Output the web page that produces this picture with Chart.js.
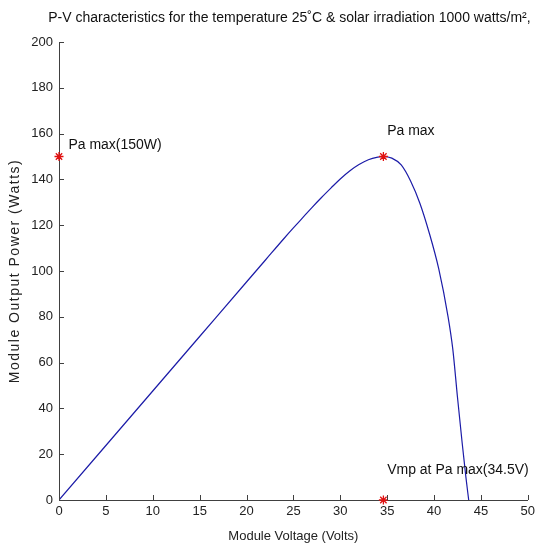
<!DOCTYPE html>
<html>
<head>
<meta charset="utf-8">
<script src="https://cdn.jsdelivr.net/npm/chart.js@4.4.1/dist/chart.umd.min.js"></script>
<style>
  html, body { margin: 0; padding: 0; background: #fff; }
  #wrap { width: 539px; height: 549px; position: relative; }
</style>
</head>
<body>
<div id="wrap"><canvas id="c" width="539" height="549"></canvas></div>
<script>
// ---- data ----
const voltage = [0, 5, 10, 15, 20, 22, 24, 25, 26, 27, 28, 29, 30, 31, 32, 33, 34, 34.6, 35.5, 36.5, 37.5, 38.5, 39.5, 40.5, 41.5, 42, 42.5, 43, 43.4, 43.7];
const power   = [0, 23.8, 47.6, 71.4, 95.2, 104.7, 114.2, 118.8, 123.3, 127.8, 132.1, 136.2, 140.2, 143.7, 146.5, 148.6, 149.7, 150, 149.3, 146.3, 139.3, 129.5, 116.5, 101, 80, 66, 45, 25, 10, 0];
const markerV = [34.6, 0, 34.6];
const markerP = [150, 150, 0];
const noteText = ["Pa max", "Pa max(150W)", "Vmp at Pa max(34.5V)"];
const noteV = [35, 1, 35];
const noteP = [161, 155, 13];
const xTicks = [0, 5, 10, 15, 20, 25, 30, 35, 40, 45, 50];
const yTicks = [0, 20, 40, 60, 80, 100, 120, 140, 160, 180, 200];
const titleText = "P-V characteristics for the temperature 25\u02daC & solar irradiation 1000 watts/m\u00b2,";
const yTitleText = "Module Output Power (Watts)";

const FONT = "'Liberation Sans', Arial, sans-serif";

const curve = voltage.map((v, i) => ({ x: v, y: power[i] }));
const marks = markerV.map((v, i) => ({ x: v, y: markerP[i] }));

const extras = {
  id: 'extras',
  afterDraw(chart) {
    const ctx = chart.ctx;
    const xs = chart.scales.x, ys = chart.scales.y;
    const ca = chart.chartArea;
    ctx.save();
    // inward ticks
    ctx.strokeStyle = '#404040';
    ctx.lineWidth = 1;
    ctx.beginPath();
    xTicks.forEach(t => {
      const px = Math.round(xs.getPixelForValue(t)) + 0.5;
      ctx.moveTo(px, ca.bottom);
      ctx.lineTo(px, ca.bottom - 5);
    });
    yTicks.forEach(t => {
      const py = Math.round(ys.getPixelForValue(t)) + 0.5;
      ctx.moveTo(ca.left, py);
      ctx.lineTo(ca.left + 5, py);
    });
    ctx.stroke();
    // annotations
    ctx.fillStyle = '#111';
    ctx.font = '14px ' + FONT;
    ctx.textAlign = 'left';
    ctx.textBaseline = 'middle';
    noteText.forEach((t, i) => {
      ctx.fillText(t, xs.getPixelForValue(noteV[i]), ys.getPixelForValue(noteP[i]));
    });
    // title
    ctx.font = '14px ' + FONT;
    ctx.textAlign = 'center';
    ctx.textBaseline = 'alphabetic';
    ctx.fillText(titleText, (ca.left + ca.right) / 2 - 4, 22);
    // y-axis title (rotated)
    ctx.save();
    ctx.translate(15, (ca.top + ca.bottom) / 2);
    ctx.rotate(-Math.PI / 2);
    ctx.font = '14px ' + FONT;
    ctx.letterSpacing = '1.5px';
    ctx.textAlign = 'center';
    ctx.textBaseline = 'middle';
    ctx.fillStyle = '#222';
    ctx.fillText(yTitleText, 0, 0);
    ctx.restore();
    ctx.restore();
  }
};

new Chart(document.getElementById('c'), {
  type: 'scatter',
  data: {
    datasets: [
      {
        data: curve,
        showLine: true,
        borderColor: '#1c1ca8',
        borderWidth: 1.2,
        pointRadius: 0,
        cubicInterpolationMode: 'monotone',
        fill: false,
        order: 2
      },
      {
        data: marks,
        showLine: false,
        pointStyle: 'star',
        pointRadius: 4.5,
        borderColor: '#e01010',
        backgroundColor: '#e01010',
        borderWidth: 1.3,
        clip: false,
        order: 1
      }
    ]
  },
  options: {
    responsive: false,
    animation: false,
    devicePixelRatio: 1,
    layout: { padding: { top: 42, right: 9, left: 0, bottom: 0 } },
    plugins: { legend: { display: false }, tooltip: { enabled: false }, title: { display: false } },
    scales: {
      x: {
        type: 'linear',
        min: 0, max: 50,
        afterBuildTicks(s) { s.ticks = xTicks.map(v => ({ value: v })); },
        afterFit(s) { s.height = 49; },
        grid: { display: true, drawOnChartArea: false, drawTicks: false },
        border: { display: true, color: '#404040', width: 1 },
        ticks: { color: '#222', font: { family: FONT, size: 13 }, padding: 4, maxRotation: 0, autoSkip: false },
        title: { display: true, text: 'Module Voltage (Volts)', color: '#222', font: { family: FONT, size: 13 }, padding: { top: 0, bottom: 5 } }
      },
      y: {
        type: 'linear',
        min: 0, max: 200,
        afterBuildTicks(s) { s.ticks = yTicks.map(v => ({ value: v })); },
        afterFit(s) { s.width = 59; },
        grid: { display: true, drawOnChartArea: false, drawTicks: false },
        border: { display: true, color: '#404040', width: 1 },
        ticks: { color: '#222', font: { family: FONT, size: 13 }, padding: 6, autoSkip: false },
        title: { display: false }
      }
    }
  },
  plugins: [extras]
});
</script>
</body>
</html>
